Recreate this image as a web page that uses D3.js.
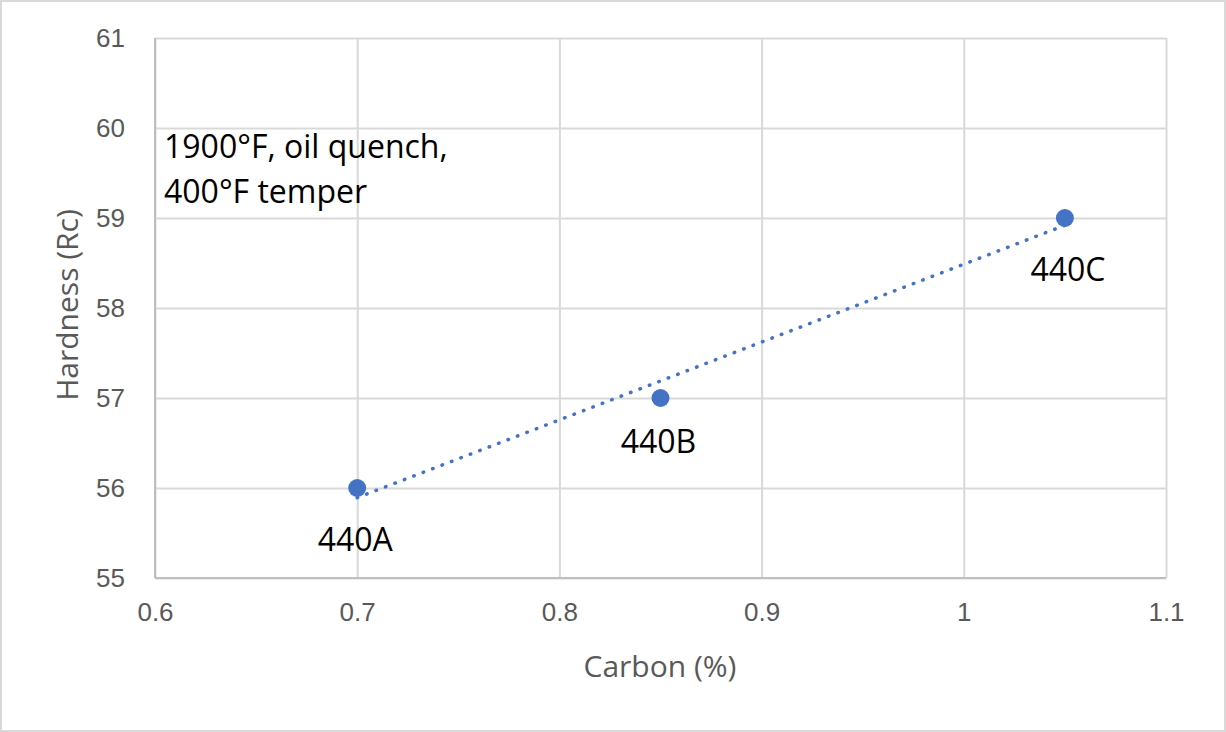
<!DOCTYPE html>
<html><head><meta charset="utf-8">
<script src="https://cdn.jsdelivr.net/npm/d3@7"></script>
<style>body{margin:0;background:#fff}svg{display:block;font-family:"Open Sans",sans-serif}</style>
</head><body><svg id="c" width="1226" height="732"></svg>
<script>
const grades = ["440A","440B","440C"];
const carbon = [0.7,0.85,1.05];
const hardness = [56,57,59];
const xTicks = [0.6,0.7,0.8,0.9,1,1.1];
const yTicks = [55,56,57,58,59,60,61];
const noteLines = ["1900°F, oil quench,","400°F temper"];

const svg = d3.select("#c");
const m = {l:155,r:1166,t:38,b:578};
const x = d3.scaleLinear().domain([0.6,1.1]).range([m.l,m.r]);
const y = d3.scaleLinear().domain([55,61]).range([m.b,m.t]);

svg.append("rect").attr("x",1).attr("y",1).attr("width",1224).attr("height",730)
  .attr("fill","#fff").attr("stroke","#d9d9d9").attr("stroke-width",2);

// gridlines
const gx = svg.append("g").attr("transform",`translate(0,${m.b})`)
  .call(d3.axisBottom(x).tickValues(xTicks).tickSize(-(m.b-m.t)).tickFormat(d=>d3.format("")(d)).tickPadding(25));
gx.select(".domain").remove();
gx.selectAll("line").attr("stroke","#d9d9d9").attr("stroke-width",2);
gx.selectAll("text").attr("fill","#595959").attr("font-size",26).attr("dy","0.71em");

const gy = svg.append("g").attr("transform",`translate(${m.l},0)`)
  .call(d3.axisLeft(y).tickValues(yTicks).tickSize(-(m.r-m.l)).tickFormat(d3.format("d")).tickPadding(30));
gy.select(".domain").remove();
gy.selectAll("line").attr("stroke","#d9d9d9").attr("stroke-width",2);
gy.selectAll("text").attr("fill","#595959").attr("font-size",26);

// axis lines
svg.append("line").attr("x1",m.l).attr("x2",m.l).attr("y1",m.t).attr("y2",m.b).attr("stroke","#bfbfbf").attr("stroke-width",2);
svg.append("line").attr("x1",m.l).attr("x2",m.r).attr("y1",m.b).attr("y2",m.b).attr("stroke","#bfbfbf").attr("stroke-width",2);

// linear trendline (least squares from data)
const mx = d3.mean(carbon), my = d3.mean(hardness);
const sxy = d3.sum(carbon.map((c,i)=>(c-mx)*(hardness[i]-my)));
const sxx = d3.sum(carbon.map(c=>(c-mx)*(c-mx)));
const slope = sxy/sxx, icpt = my - slope*mx;
const ext = d3.extent(carbon);
svg.append("line")
  .attr("x1",x(ext[0])).attr("y1",y(icpt+slope*ext[0]))
  .attr("x2",x(ext[1])).attr("y2",y(icpt+slope*ext[1]))
  .attr("stroke","#4472c4").attr("stroke-width",3.5).attr("stroke-linecap","round")
  .attr("stroke-dasharray","0.5 9.6");

// points
svg.selectAll("circle.pt").data(carbon).join("circle").attr("class","pt")
  .attr("cx",d=>x(d)).attr("cy",(d,i)=>y(hardness[i])).attr("r",9).attr("fill","#4472c4");

// data labels (below each point)
const labDx = [-2,-2,3], labDy = [63,55,63];
svg.selectAll("text.lab").data(grades).join("text").attr("class","lab")
  .attr("x",(d,i)=>x(carbon[i])+labDx[i])
  .attr("y",(d,i)=>y(hardness[i])+labDy[i])
  .attr("text-anchor","middle").attr("font-size",32).attr("fill","#000").text(d=>d);

// note
svg.selectAll("text.note").data(noteLines).join("text").attr("class","note")
  .attr("x",164).attr("y",(d,i)=>158+i*45).attr("font-size",32).attr("fill","#000").text(d=>d);

// axis titles
svg.append("text").attr("x",660).attr("y",677).attr("text-anchor","middle")
  .attr("font-size",30).attr("fill","#595959").text("Carbon (%)");
svg.append("text").attr("transform",`translate(78,305) rotate(-90)`).attr("text-anchor","middle")
  .attr("font-size",30).attr("fill","#595959").text("Hardness (Rc)");
</script></body></html>
